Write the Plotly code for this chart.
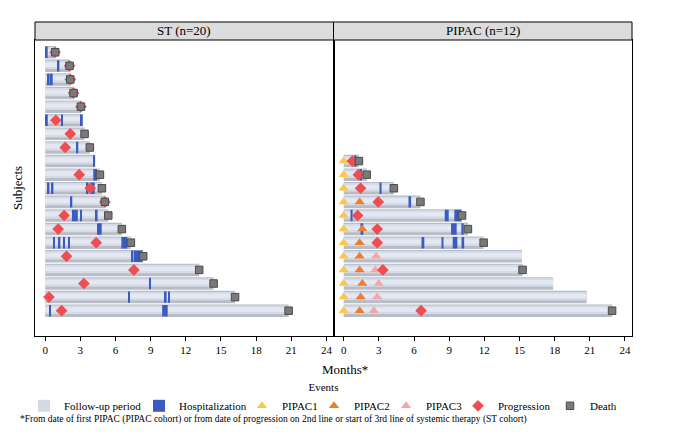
import plotly.graph_objects as go

# ---------------- ST cohort (rows listed top to bottom) ----------------
st_end = [0.85, 2.08, 2.14, 2.42, 3.05, 3.20, 3.36, 3.81, 4.27, 4.67,
          4.84, 5.09, 5.38, 6.54, 7.31, 8.36, 13.14, 14.37, 16.20, 20.77]
st_death = [0.85, 2.08, 2.14, 2.42, 3.05, None, 3.36, 3.81, None, 4.67,
            4.84, 5.09, 5.38, 6.54, 7.31, 8.36, 13.14, 14.37, 16.20, 20.77]
st_prog = [0.85, 2.08, 2.14, 2.42, 3.05, 0.91, 2.14, 1.71, None, 2.90,
           3.84, 5.09, 1.62, 1.11, 4.35, 1.82, 7.57, 3.30, 0.32, 1.40]
# hospitalisations: row index (0 = top), start, end (months)
st_hosp_row = [0, 1, 2, 2, 5, 5, 5, 7, 8, 9, 10, 10, 10, 10, 11, 12, 12, 12,
               13, 13, 14, 14, 14, 14, 14, 15, 15, 17, 18, 18, 18, 19, 19]
st_hosp_start = [0.05, 1.05, 0.22, 0.48, 0.06, 1.36, 3.04, 2.66, 4.08, 4.10,
                 0.20, 0.54, 3.53, 3.85, 2.15, 2.28, 2.98, 4.31,
                 4.43, 4.66, 0.67, 1.13, 1.53, 1.95, 6.50, 7.35, 7.55, 8.86,
                 7.07, 10.20, 10.48, 0.33, 9.98]
st_hosp_end = [0.21, 1.21, 0.38, 0.64, 0.22, 1.52, 3.20, 2.82, 4.25, 4.42,
               0.36, 0.70, 3.69, 4.22, 2.31, 2.78, 3.14, 4.47,
               4.59, 4.82, 0.83, 1.29, 1.69, 2.11, 7.00, 7.51, 8.30, 9.02,
               7.23, 10.36, 10.64, 0.49, 10.45]

# ---------------- PIPAC cohort (rows listed top to bottom) ----------------
p_end = [1.30, 1.96, 4.28, 6.55, 10.10, 10.60, 11.94, 15.20, 15.26, 17.87, 20.73, 22.90]
p_death = [1.30, 1.96, 4.28, 6.55, 10.10, 10.60, 11.94, None, 15.26, None, None, 22.90]
p_prog = [0.74, 1.25, 1.44, 2.95, 1.19, 2.86, 2.86, None, 3.34, None, None, 6.60]
p_pipac1 = [0, 0, 0, 0, 0, 0, 0, 0, 0, 0, 0, 0]
p_pipac2 = [None, None, None, 1.36, None, 1.59, 1.36, 1.36, 1.36, 1.59, 1.45, 1.36]
p_pipac3 = [None, None, None, None, None, None, 2.86, 2.77, 2.70, 2.99, 2.86, 2.57]
p_hosp_row = [0, 1, 2, 3, 4, 4, 4, 5, 5, 5, 6, 6, 6, 6]
p_hosp_start = [0.90, 1.40, 3.07, 5.59, 0.60, 8.62, 9.44, 1.51, 9.16, 10.04,
                6.72, 8.35, 9.30, 10.12]
p_hosp_end = [1.08, 1.56, 3.23, 5.75, 0.76, 8.96, 10.04, 1.67, 9.64, 10.24,
              6.88, 8.51, 9.70, 10.28]

panel_titles = ["ST (n=20)", "PIPAC (n=12)"]
tick_vals = [0, 3, 6, 9, 12, 15, 18, 21, 24]

FONT = "Liberation Serif"
C_HOSP = "#3a5bbf"
C_P1 = "#f9c84a"
C_P2 = "#ee7d30"
C_P3 = "#f4a7a6"
C_PROG = "#ef4e50"
C_DEATH = "#7a7a7a"

# legend entry text widths (px)
leg_w = {"fu": 70, "hosp": 58, "p1": 27, "p2": 27, "p3": 27, "prog": 47, "death": 28}

fig = go.Figure()


def ypos(n, idx):
    return [n - i for i in idx]


def add_panel(xa, ya, ends, deaths, progs, h_row, h_start, h_end,
              pip1=None, pip2=None, pip3=None, show=False):
    n = len(ends)
    ys = ypos(n, range(n))
    # follow-up period (3 layers to imitate the cylinder shading)
    for col, off, wid, leg in [("#b8bcc7", -0.46, 0.92, False),
                               ("#d5dae7", -0.24, 0.62, True),
                               ("#e4e8f3", -0.08, 0.32, False)]:
        fig.add_trace(go.Bar(
            x=ends, y=ys, base=[0] * n, orientation="h",
            width=[wid] * n, offset=off,
            marker=dict(color=col, line=dict(width=0)),
            name="Follow-up period", legendgroup="fu",
            showlegend=(show and leg), xaxis=xa, yaxis=ya, hoverinfo="skip"))
    # hospitalisation
    fig.add_trace(go.Bar(
        x=[e - s for s, e in zip(h_start, h_end)], base=h_start,
        y=ypos(n, h_row), orientation="h",
        width=[0.84] * len(h_row), offset=-0.42,
        marker=dict(color=C_HOSP, line=dict(width=0)),
        name="Hospitalization", legendgroup="hosp", showlegend=show,
        xaxis=xa, yaxis=ya))

    def sc(vals, name, sym, col, size, lcol, lw, grp, legshow):
        xs = [v for v in vals if v is not None]
        yy = [y for v, y in zip(vals, ys) if v is not None]
        fig.add_trace(go.Scatter(
            x=xs, y=yy, mode="markers", name=name, legendgroup=grp,
            showlegend=legshow, xaxis=xa, yaxis=ya,
            marker=dict(symbol=sym, color=col, size=size,
                        line=dict(color=lcol, width=lw))))

    if pip1 is not None:
        sc(pip1, "PIPAC1", "triangle-up", C_P1, 9, C_P1, 0, "p1", True)
        sc(pip2, "PIPAC2", "triangle-up", C_P2, 9, C_P2, 0, "p2", True)
        sc(pip3, "PIPAC3", "triangle-up", C_P3, 9, C_P3, 0, "p3", True)
    sc(progs, "Progression", "diamond", C_PROG, 9, C_PROG, 0, "prog", show)
    sc(deaths, "Death", "square", C_DEATH, 7.5, "#4a4a4a", 1, "death", show)


add_panel("x", "y", st_end, st_death, st_prog,
          st_hosp_row, st_hosp_start, st_hosp_end, show=True)
add_panel("x2", "y2", p_end, p_death, p_prog,
          p_hosp_row, p_hosp_start, p_hosp_end,
          pip1=p_pipac1, pip2=p_pipac2, pip3=p_pipac3, show=False)

# legend order / widths
order = {"fu": 1, "hosp": 2, "p1": 3, "p2": 4, "p3": 5, "prog": 6, "death": 7}
for tr in fig.data:
    tr.legendrank = order[tr.legendgroup]
    tr.legendwidth = leg_w[tr.legendgroup]

axis_common = dict(showline=True, mirror=True, linecolor="black", linewidth=1,
                   showgrid=False, zeroline=False)
xcommon = dict(axis_common, range=[-0.87, 24.6], tickvals=tick_vals,
               ticks="outside", ticklen=4, tickcolor="black",
               tickfont=dict(family=FONT, size=11, color="black"))
ycommon = dict(axis_common, range=[-0.86, 20.9], showticklabels=False, ticks="")

# the page adds an 8px offset; plot area aimed at screen x 35..632, y 40..336
H = 296.0
W = 597.0
fig.update_layout(
    width=680, height=442,
    margin=dict(l=27, r=56, t=32, b=114, autoexpand=False),
    paper_bgcolor="white", plot_bgcolor="white",
    barmode="overlay",
    font=dict(family=FONT, color="black", size=11),
    xaxis=dict(xcommon, domain=[0, 0.5], anchor="y"),
    xaxis2=dict(xcommon, domain=[0.5, 1], anchor="y2"),
    yaxis=dict(ycommon, domain=[0, 1], anchor="x"),
    yaxis2=dict(ycommon, domain=[0, 1], anchor="x2", matches="y"),
    legend=dict(orientation="h", x=(24 - 35) / W, xanchor="left",
                y=-(377 - 336) / H, yanchor="top",
                title=dict(text="Events", side="top center",
                           font=dict(family=FONT, size=11)),
                font=dict(family=FONT, size=11), itemwidth=30,
                tracegroupgap=0, bgcolor="rgba(0,0,0,0)"),
    showlegend=True,
)

# panel header strips
for i, (x0, x1) in enumerate([(0, 0.5), (0.5, 1)]):
    fig.add_shape(type="rect", xref="paper", yref="paper",
                  x0=x0, x1=x1, y0=1, y1=1 + 18 / H,
                  fillcolor="#dcdcdc", line=dict(color="black", width=1))
    fig.add_annotation(text=panel_titles[i], xref="paper", yref="paper",
                       x=(x0 + x1) / 2, y=1 + 9 / H, showarrow=False,
                       xanchor="center", yanchor="middle",
                       font=dict(family=FONT, size=13, color="black"))

fig.add_annotation(text="Months*", xref="paper", yref="paper", x=0.52,
                   y=-(369 - 336) / H, showarrow=False, yanchor="middle",
                   font=dict(family=FONT, size=13, color="black"))
fig.add_annotation(text="Subjects", xref="paper", yref="paper",
                   x=(17 - 35) / W, y=0.5, textangle=-90, showarrow=False,
                   xanchor="center", yanchor="middle",
                   font=dict(family=FONT, size=13, color="black"))
fig.add_annotation(
    text="*From date of first PIPAC (PIPAC cohort) or from date of progression on 2nd line "
         "or start of 3rd line of systemic therapy (ST cohort)",
    xref="paper", yref="paper", x=(18 - 35) / W, y=-(419 - 336) / H,
    xanchor="left", yanchor="middle", showarrow=False,
    font=dict(family=FONT, size=9.5, color="black"))

fig.write_html("out.html")
